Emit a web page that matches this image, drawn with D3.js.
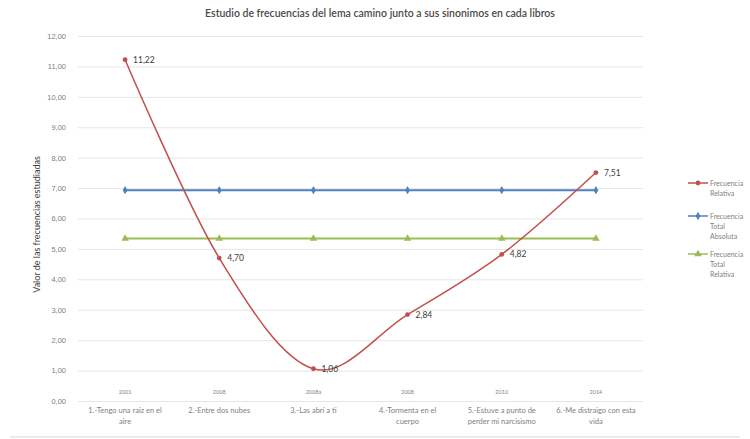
<!DOCTYPE html>
<html>
<head>
<meta charset="utf-8">
<script src="https://cdn.jsdelivr.net/npm/d3@7"></script>
<style>
  body { margin: 0; background: #fff; }
  svg { display: block; font-family: Lato, "Liberation Sans", sans-serif; }
</style>
</head>
<body>
<svg id="chart" width="750" height="439"></svg>
<script>
// Books and their years
const categories = [
  "1.-Tengo una raiz en el aire",
  "2.-Entre dos nubes",
  "3.-Las abrí a ti",
  "4.-Tormenta en el cuerpo",
  "5.-Estuve a punto de perder mi narcisismo",
  "6.-Me distraigo con esta vida"
];
const categoryLines = [
  ["1.-Tengo una raiz en el", "aire"],
  ["2.-Entre dos nubes"],
  ["3.-Las abrí a ti"],
  ["4.-Tormenta en el", "cuerpo"],
  ["5.-Estuve a punto de", "perder mi narcisismo"],
  ["6.-Me distraigo con esta", "vida"]
];
const years = ["2001", "2008", "2008a", "2008", "2010", "2014"];

// Series
const frecuenciaRelativa = [11.22, 4.70, 1.06, 2.84, 4.82, 7.51];
const frecuenciaTotalAbsoluta = [6.93, 6.93, 6.93, 6.93, 6.93, 6.93];
const frecuenciaTotalRelativa = [5.34, 5.34, 5.34, 5.34, 5.34, 5.34];

const yTicks = [0, 1, 2, 3, 4, 5, 6, 7, 8, 9, 10, 11, 12];

const seriesNames = [
  ["Frecuencia", "Relativa"],
  ["Frecuencia", "Total", "Absoluta"],
  ["Frecuencia", "Total", "Relativa"]
];
const colors = ["#c0504d", "#4f81bd", "#9bbb59"];

const svg = d3.select("#chart");
const plot = { left: 78, right: 643, top: 36, bottom: 401 };

const x = d3.scaleBand().domain(d3.range(categories.length))
  .range([plot.left, plot.right]);
const xc = i => x(i) + x.bandwidth() / 2;
const y = d3.scaleLinear().domain([0, 12]).range([plot.bottom, plot.top]);

const fmt = v => d3.format(".2f")(v).replace(".", ",");

// Title
svg.append("text")
  .attr("x", 380).attr("y", 17)
  .attr("text-anchor", "middle")
  .attr("font-size", 10.5)
  .attr("font-weight", 600)
  .attr("fill", "#4a4a4a")
  .text("Estudio de frecuencias del lema camino junto a sus sinonimos en cada libros");

// Gridlines and y axis labels
const yAxis = d3.axisLeft(y).tickValues(yTicks).tickSize(-(plot.right - plot.left))
  .tickFormat(fmt).tickPadding(12);
const gy = svg.append("g").attr("transform", `translate(${plot.left},0)`).call(yAxis);
gy.select(".domain").remove();
gy.selectAll(".tick line").attr("stroke", "#e6e6e6").attr("stroke-width", 1);
gy.selectAll(".tick text").attr("fill", "#808080").attr("font-size", 7.5);

// Y axis title
svg.append("text")
  .attr("transform", `translate(40,${(plot.top + plot.bottom) / 2 + 6}) rotate(-90)`)
  .attr("text-anchor", "middle")
  .attr("font-size", 9)
  .attr("fill", "#404040")
  .text("Valor de las frecuencias estudiadas");

// Year labels above the category axis
svg.append("g").selectAll("text").data(years).join("text")
  .attr("x", (d, i) => xc(i)).attr("y", plot.bottom - 7)
  .attr("text-anchor", "middle")
  .attr("font-size", 5.5)
  .attr("fill", "#7f7f7f")
  .text(d => d);

// Category labels
const gx = svg.append("g");
categoryLines.forEach((lines, i) => {
  const t = gx.append("text")
    .attr("x", xc(i)).attr("y", plot.bottom + 12)
    .attr("text-anchor", "middle")
    .attr("font-size", 7.5)
    .attr("fill", "#808080");
  lines.forEach((l, j) => t.append("tspan").attr("x", xc(i)).attr("dy", j ? 11 : 0).text(l));
});

// Bottom border
svg.append("line")
  .attr("x1", 10).attr("x2", 740).attr("y1", 437).attr("y2", 437)
  .attr("stroke", "#d9d9d9");

// Lines
const straight = d3.line().x((d, i) => xc(i)).y(d => y(d));
const smooth = d3.line().x((d, i) => xc(i)).y(d => y(d)).curve(d3.curveCardinal.tension(0));

svg.append("path").datum(frecuenciaTotalAbsoluta).attr("d", straight)
  .attr("fill", "none").attr("stroke", colors[1]).attr("stroke-width", 2);
svg.append("path").datum(frecuenciaTotalRelativa).attr("d", straight)
  .attr("fill", "none").attr("stroke", colors[2]).attr("stroke-width", 2);
svg.append("path").datum(frecuenciaRelativa).attr("d", smooth)
  .attr("fill", "none").attr("stroke", colors[0]).attr("stroke-width", 1.5);

// Markers
const diamond = d3.symbol().type(d3.symbolDiamond).size(20);
const triangle = d3.symbol().type(d3.symbolTriangle).size(24);
const circle = d3.symbol().type(d3.symbolCircle).size(18);

svg.append("g").selectAll("path").data(frecuenciaTotalAbsoluta).join("path")
  .attr("d", diamond).attr("fill", colors[1])
  .attr("transform", (d, i) => `translate(${xc(i)},${y(d)})`);
svg.append("g").selectAll("path").data(frecuenciaTotalRelativa).join("path")
  .attr("d", triangle).attr("fill", colors[2])
  .attr("transform", (d, i) => `translate(${xc(i)},${y(d)})`);
svg.append("g").selectAll("path").data(frecuenciaRelativa).join("path")
  .attr("d", circle).attr("fill", colors[0])
  .attr("transform", (d, i) => `translate(${xc(i)},${y(d)})`);

// Data labels
svg.append("g").selectAll("text").data(frecuenciaRelativa).join("text")
  .attr("x", (d, i) => xc(i) + 8).attr("y", d => y(d) + 3)
  .attr("font-size", 8.5)
  .attr("fill", "#404040")
  .text(fmt);

// Legend
const legendY = [183, 216, 254];
const legendSymbols = [circle, diamond, triangle];
seriesNames.forEach((lines, i) => {
  const g = svg.append("g").attr("transform", `translate(688,${legendY[i]})`);
  g.append("line").attr("x1", 0).attr("x2", 20).attr("stroke", colors[i]).attr("stroke-width", 1.5);
  g.append("path").attr("d", legendSymbols[i]).attr("fill", colors[i])
    .attr("transform", "translate(10,0)");
  const t = g.append("text").attr("x", 22).attr("y", 3)
    .attr("font-size", 7).attr("fill", "#808080");
  lines.forEach((l, j) => t.append("tspan").attr("x", 22).attr("dy", j ? 10 : 0).text(l));
});
</script>
</body>
</html>
